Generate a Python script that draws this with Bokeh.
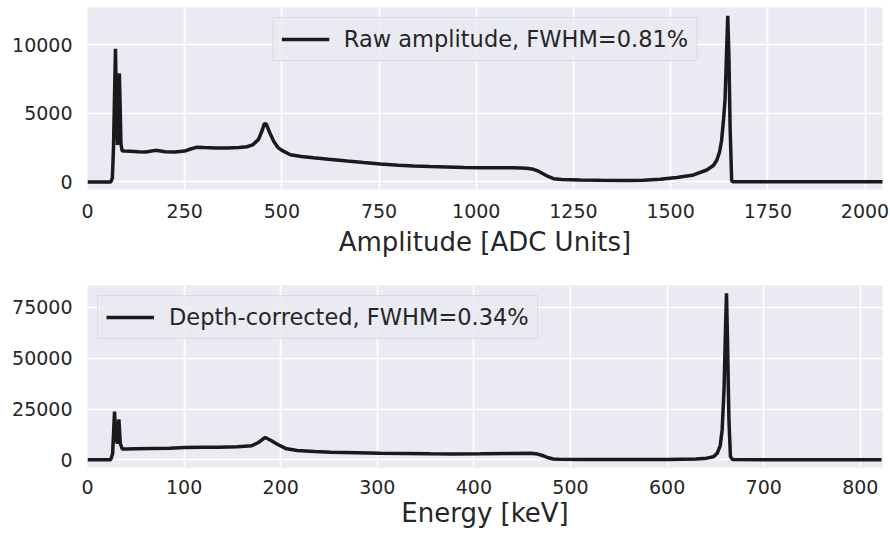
from bokeh.plotting import figure
from bokeh.layouts import column
from bokeh.models import Range1d, FixedTicker
from bokeh.embed import file_html
from bokeh.resources import INLINE

# ---- data ----
adc = [0, 30, 60, 64, 67, 70, 72, 74, 77, 80, 82, 84, 86, 89, 95, 110, 130, 150,
       175, 200, 225, 250, 265, 280, 300, 330, 360, 390, 410, 425, 440, 450, 455,
       460, 470, 480, 490, 500, 522, 550, 581, 620, 668, 710, 753, 800, 839, 880,
       925, 970, 1010, 1050, 1096, 1130, 1147, 1160, 1173, 1186, 1199, 1220, 1267,
       1320, 1387, 1430, 1473, 1516, 1559, 1593, 1610, 1619, 1626, 1631, 1636,
       1640, 1644, 1647, 1650, 1653, 1657, 1660, 1700, 1800, 1900, 2000, 2047]
raw_counts = [0, 0, 0, 300, 2600, 7000, 9700, 6000, 2700, 7000, 7900, 5500, 2800,
              2270, 2250, 2230, 2200, 2180, 2300, 2200, 2180, 2250, 2400, 2520, 2500,
              2480, 2470, 2500, 2560, 2700, 3100, 3800, 4250, 4200, 3500, 2900, 2500,
              2300, 1980, 1850, 1760, 1650, 1520, 1410, 1300, 1220, 1160, 1120, 1090,
              1060, 1040, 1040, 1040, 1000, 920, 780, 580, 380, 240, 170, 145, 120,
              100, 130, 190, 330, 510, 870, 1200, 1600, 2200, 3000, 4500, 6000, 9500,
              12100, 9000, 4000, 100, 20, 20, 20, 20, 20, 20]

energy = [0, 15, 24, 26, 28, 29.5, 31, 32.5, 34, 36, 40, 50, 67, 85, 101, 120, 136,
          155, 170, 177, 184, 190, 197, 205, 217, 235, 252, 280, 303, 330, 355, 380,
          407, 435, 459, 466, 472, 477, 482, 490, 510, 550, 600, 630, 641, 648, 652,
          655, 657, 659, 660.5, 661.5, 662.5, 664, 665.6, 668, 700, 750, 800, 822]
corr_counts = [0, 0, 0, 3000, 23700, 10000, 8000, 19900, 8000, 5300, 5300, 5400,
               5560, 5700, 6050, 6150, 6200, 6400, 6900, 8500, 11000, 9500, 7500,
               5600, 4600, 4100, 3760, 3500, 3270, 3100, 2950, 2900, 3000, 3150, 3200,
               2800, 1960, 1000, 400, 200, 150, 120, 150, 400, 800, 1500, 3270, 7000,
               14700, 35000, 65000, 82000, 60000, 20000, 1500, 100, 50, 30, 30, 30]

raw_label = "Raw amplitude, FWHM=0.81%"
corr_label = "Depth-corrected, FWHM=0.34%"
x1_title = "Amplitude [ADC Units]"
x2_title = "Energy [keV]"
x1_ticks = [0, 250, 500, 750, 1000, 1250, 1500, 1750, 2000]
y1_ticks = [0, 5000, 10000]
x2_ticks = [0, 100, 200, 300, 400, 500, 600, 700, 800]
y2_ticks = [0, 25000, 50000, 75000]

FONT = "DejaVu Sans"
TXT = "#262626"
BG = "#EAEAF2"
LINE = "#1a1a1a"


def style(p, xt, yt, xlabel, tick_standoff, label_standoff):
    p.background_fill_color = BG
    p.border_fill_color = "white"
    p.outline_line_color = None
    p.xaxis.ticker = FixedTicker(ticks=xt)
    p.yaxis.ticker = FixedTicker(ticks=yt)
    for ax in (p.xaxis[0], p.yaxis[0]):
        ax.axis_line_color = None
        ax.major_tick_line_color = None
        ax.minor_tick_line_color = None
        ax.major_tick_out = 0
        ax.major_tick_in = 0
        ax.major_label_text_font = FONT
        ax.major_label_text_font_size = "19px"
        ax.major_label_text_color = TXT
    p.xaxis.major_label_standoff = tick_standoff
    p.yaxis.major_label_standoff = 15
    p.xaxis.axis_label = xlabel
    p.xaxis.axis_label_text_font = FONT
    p.xaxis.axis_label_text_font_size = "26px"
    p.xaxis.axis_label_text_font_style = "normal"
    p.xaxis.axis_label_text_color = TXT
    p.xaxis.axis_label_standoff = label_standoff
    for g in (p.xgrid[0], p.ygrid[0]):
        g.grid_line_color = "white"
        g.grid_line_width = 1.6
        g.ticker = FixedTicker(ticks=xt if g is p.xgrid[0] else yt)


def style_legend(p, loc):
    lg = p.legend[0]
    lg.location = loc
    lg.margin = 10
    lg.padding = 8
    lg.spacing = 0
    lg.glyph_width = 48
    lg.glyph_height = 24
    lg.label_height = 24
    lg.label_standoff = 15
    lg.label_text_font = FONT
    lg.label_text_font_size = "22.5px"
    lg.label_text_color = TXT
    lg.background_fill_color = BG
    lg.background_fill_alpha = 0.8
    lg.border_line_color = "#cccccc"
    lg.border_line_width = 1


p1 = figure(width=890, height=262, output_backend="svg", toolbar_location=None,
            x_range=Range1d(0, 2045), y_range=Range1d(-550, 12700),
            min_border_left=87, min_border_right=8, min_border_top=7,
            min_border_bottom=73)
p1.line(adc, raw_counts, line_color=LINE, line_width=3.5, legend_label=raw_label)
style(p1, x1_ticks, y1_ticks, x1_title, 14, 6)
style_legend(p1, "top_center")

p2 = figure(width=890, height=271, output_backend="svg", toolbar_location=None,
            x_range=Range1d(0, 823), y_range=Range1d(-3800, 85800),
            min_border_left=87, min_border_right=8, min_border_top=23,
            min_border_bottom=66)
p2.line(energy, corr_counts, line_color=LINE, line_width=3.5, legend_label=corr_label)
style(p2, x2_ticks, y2_ticks, x2_title, 12, 1)
style_legend(p2, "top_left")

layout = column(p1, p2, spacing=0)
open("out.html", "w").write(file_html(layout, INLINE))
